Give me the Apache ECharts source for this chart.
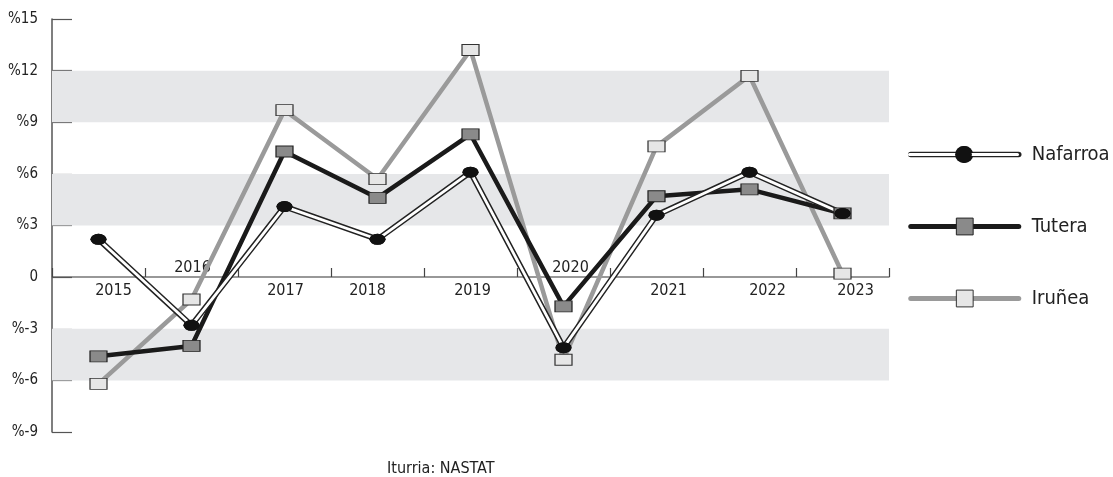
<!DOCTYPE html>
<html><head><meta charset="utf-8">
<script src="https://cdn.jsdelivr.net/npm/echarts@6/dist/echarts.min.js"></script>
<style>html,body{margin:0;padding:0;background:#fff}#c{width:1113px;height:477px}</style>
</head><body><div id="c"></div>
<script>
const years = ['2015','2016','2017','2018','2019','2020','2021','2022','2023'];
const nafarroa = [2.2, -2.8, 4.1, 2.2, 6.1, -4.1, 3.6, 6.1, 3.7];
const tutera   = [-4.6, -4.0, 7.3, 4.6, 8.3, -1.7, 4.7, 5.1, 3.7];
const irunea   = [-6.2, -1.3, 9.7, 5.7, 13.2, -4.8, 7.6, 11.7, 0.2];
const yTicks = [-9, -6, -3, 0, 3, 6, 9, 12, 15];
const yTickLabels = ['%-9', '%-6', '%-3', '0', '%3', '%6', '%9', '%12', '%15'];
const shadedBands = [[9, 12], [3, 6], [-6, -3]];
const labelsAbove = ['2016', '2020'];
const sourceText = 'Iturria: NASTAT';
const seriesNames = ['Nafarroa', 'Tutera', 'Iruñea'];

const FONT = "'Liberation Sans Narrow', 'DejaVu Sans Condensed', sans-serif";
const labelShift = [15, 1, 1, -10, 2, 7, 12, 18, 13];
const rich = {};
labelShift.forEach((d, i) => {
  rich['s' + i] = { padding: d >= 0 ? [0, 0, 0, 2 * d] : [0, -2 * d, 0, 0], fontSize: 16, fontFamily: FONT, color: '#222' };
});
function lbl(below) {
  return function (v, i) {
    const above = labelsAbove.indexOf(v) >= 0;
    if (above === below) return '';
    return '{s' + i + '|' + v + '}';
  };
}

const chart = echarts.init(document.getElementById('c'), null, { renderer: 'canvas' });
chart.setOption({
  animation: false,
  backgroundColor: '#fff',
  textStyle: { fontFamily: FONT },
  title: {
    text: sourceText, left: 387, top: 461, padding: 0,
    textStyle: { fontSize: 16, fontWeight: 'normal', color: '#222', fontFamily: FONT }
  },
  grid: [
    { left: 52, right: 224, top: 19, bottom: 45, containLabel: false },
    { left: 52, right: 224, top: 19, bottom: 200, containLabel: false }
  ],
  legend: [{
    orient: 'vertical', left: 908, top: 144, padding: 0, itemWidth: 108, itemHeight: 21, itemGap: 51,
    textStyle: { fontSize: 20, color: '#222', fontFamily: FONT, lineHeight: 21, padding: [0, 0, 0, 8] },
    data: [
      { name: seriesNames[0], lineStyle: { width: 5.5 }, itemStyle: { borderWidth: 0 } },
      { name: seriesNames[1], lineStyle: { width: 5 }, itemStyle: { borderWidth: 1 } },
      { name: seriesNames[2], lineStyle: { width: 5 }, itemStyle: { borderWidth: 1 } }
    ]
  }, {
    orient: 'vertical', left: 908, top: 144, padding: 0, itemWidth: 108, itemHeight: 21, z: 20,
    formatter: function () { return '\u00a0'; },
    textStyle: { fontSize: 20, color: '#222', fontFamily: FONT, lineHeight: 21, padding: [0, 0, 0, 8] },
    data: [{ name: 'Nafarroa-inner', lineStyle: { width: 3 }, itemStyle: { borderWidth: 0 } }]
  }],
  xAxis: [{
    gridIndex: 0, type: 'category', data: years, boundaryGap: true, show: false
  }, {
    gridIndex: 1, type: 'category', data: years, boundaryGap: true, position: 'bottom',
    axisLine: { onZero: false, lineStyle: { color: '#777', width: 1.5 } },
    axisTick: { show: true, inside: true, interval: 0, length: 9, lineStyle: { color: '#444', width: 1.2 } },
    axisLabel: { interval: 0, margin: 6, formatter: lbl(true), rich: rich, fontSize: 16, color: '#222' },
    splitLine: { show: false }
  }, {
    gridIndex: 1, type: 'category', data: years, boundaryGap: true, position: 'bottom',
    axisLine: { onZero: false, show: false },
    axisTick: { show: false },
    axisLabel: { inside: true, interval: 0, margin: 1, formatter: lbl(false), rich: rich, fontSize: 16, color: '#222' },
    splitLine: { show: false }
  }],
  yAxis: [{
    gridIndex: 0, type: 'value', min: -9, max: 15, interval: 3,
    axisLine: { show: true, lineStyle: { color: '#555', width: 1.5 } },
    axisTick: { show: true, inside: true, length: 20, lineStyle: { color: '#555', width: 1.2 } },
    axisLabel: {
      margin: 14, fontSize: 15, color: '#222', fontFamily: FONT,
      formatter: function (v) { const k = yTicks.indexOf(v); return k >= 0 ? yTickLabels[k] : ''; }
    },
    splitLine: { show: false }
  }, {
    gridIndex: 1, type: 'value', min: 0, max: 1, show: false
  }],
  series: [{
    name: seriesNames[2], type: 'line', data: irunea, xAxisIndex: 0, yAxisIndex: 0,
    symbol: 'rect', symbolSize: [17, 11],
    lineStyle: { color: '#9a9a9a', width: 4.5, cap: 'round' },
    itemStyle: { color: '#e6e6e6', borderColor: '#333', borderWidth: 1 },
    markArea: {
      silent: true,
      itemStyle: { color: '#e6e7e9' },
      data: shadedBands.map(b => [{ yAxis: b[0] }, { yAxis: b[1] }])
    }
  }, {
    name: seriesNames[1], type: 'line', data: tutera, xAxisIndex: 0, yAxisIndex: 0,
    symbol: 'rect', symbolSize: [17, 11],
    lineStyle: { color: '#1a1a1a', width: 4.5, cap: 'round' },
    itemStyle: { color: '#8a8a8a', borderColor: '#222', borderWidth: 1 }
  }, {
    name: seriesNames[0], type: 'line', data: nafarroa, xAxisIndex: 0, yAxisIndex: 0,
    symbol: 'circle', symbolSize: [16, 11],
    lineStyle: { color: '#222', width: 5.8, cap: 'round' },
    itemStyle: { color: '#111' }
  }, {
    name: 'Nafarroa-inner', type: 'line', data: nafarroa, xAxisIndex: 0, yAxisIndex: 0,
    symbol: 'circle', symbolSize: [16, 11],
    lineStyle: { color: '#ffffff', width: 2.8, cap: 'round' },
    itemStyle: { color: '#111' }
  }]
});
</script>
</body></html>
